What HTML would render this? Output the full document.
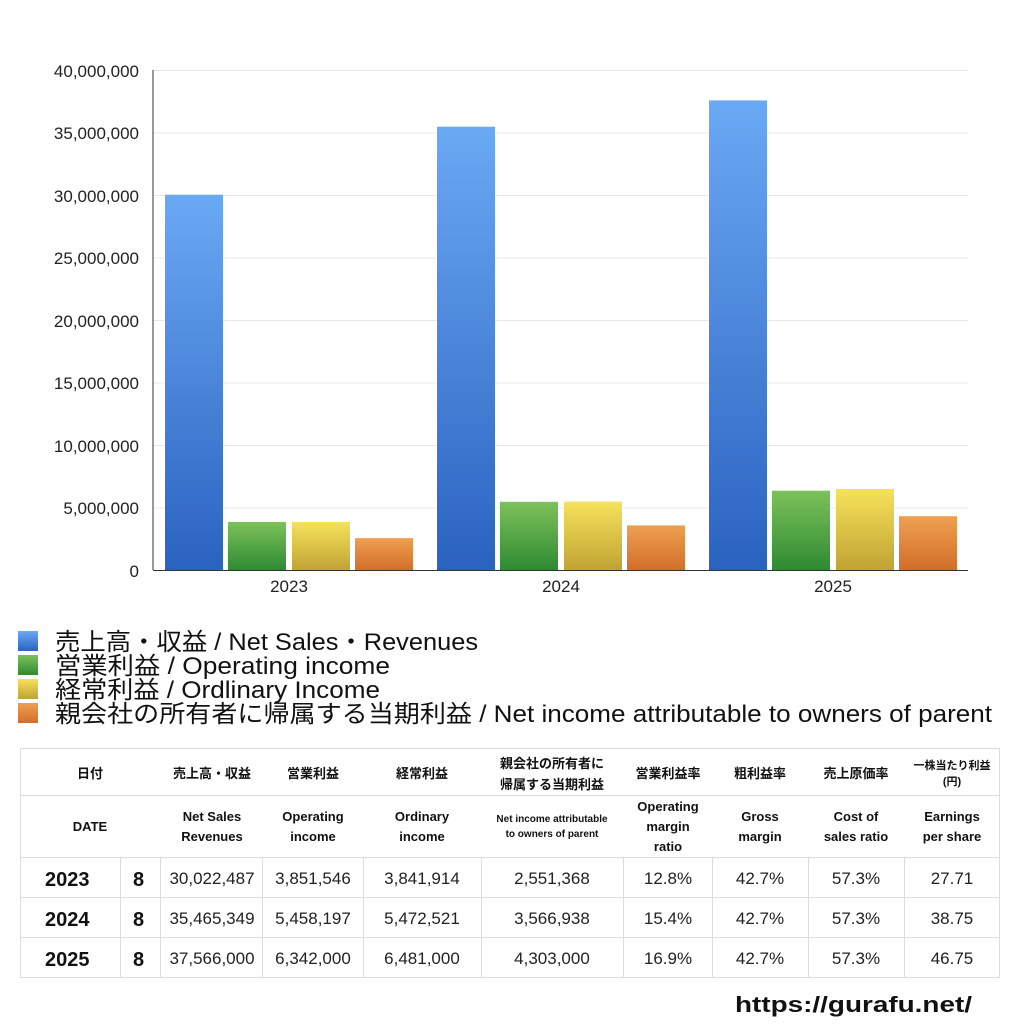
<!DOCTYPE html>
<html><head><meta charset="utf-8"><style>
html,body{margin:0;padding:0;background:#fff;}
svg{display:block;font-family:"Liberation Sans","Noto Sans CJK JP",sans-serif;}
</style></head><body>
<svg width="1024" height="1024" viewBox="0 0 1024 1024" xmlns="http://www.w3.org/2000/svg">
<defs>
<linearGradient id="gb" x1="0" y1="0" x2="0" y2="1"><stop offset="0" stop-color="#6aa9f4"/><stop offset="1" stop-color="#2b62c0"/></linearGradient>
<linearGradient id="gg" x1="0" y1="0" x2="0" y2="1"><stop offset="0" stop-color="#7cc25a"/><stop offset="1" stop-color="#2f8a32"/></linearGradient>
<linearGradient id="gy" x1="0" y1="0" x2="0" y2="1"><stop offset="0" stop-color="#f6e25a"/><stop offset="1" stop-color="#c0a334"/></linearGradient>
<linearGradient id="go" x1="0" y1="0" x2="0" y2="1"><stop offset="0" stop-color="#eea050"/><stop offset="1" stop-color="#d26e2a"/></linearGradient>
</defs>
<g stroke="#e8e8e8" stroke-width="1">
<line x1="153" y1="70.5" x2="968" y2="70.5"/><line x1="153" y1="133" x2="968" y2="133"/>
<line x1="153" y1="195.5" x2="968" y2="195.5"/><line x1="153" y1="258" x2="968" y2="258"/>
<line x1="153" y1="320.5" x2="968" y2="320.5"/><line x1="153" y1="383" x2="968" y2="383"/>
<line x1="153" y1="445.5" x2="968" y2="445.5"/><line x1="153" y1="508" x2="968" y2="508"/>
</g>
<g font-size="17" fill="#222" text-anchor="end">
<text x="139" y="77">40,000,000</text><text x="139" y="139">35,000,000</text>
<text x="139" y="202">30,000,000</text><text x="139" y="264">25,000,000</text>
<text x="139" y="327">20,000,000</text><text x="139" y="389">15,000,000</text>
<text x="139" y="452">10,000,000</text><text x="139" y="514">5,000,000</text>
<text x="139" y="577">0</text>
</g>
<rect x="165" y="194.7" width="58" height="375.3" fill="url(#gb)"/>
<rect x="228" y="521.9" width="58" height="48.1" fill="url(#gg)"/>
<rect x="292" y="522" width="58" height="48" fill="url(#gy)"/>
<rect x="355" y="538.1" width="58" height="31.9" fill="url(#go)"/>
<rect x="437" y="126.7" width="58" height="443.3" fill="url(#gb)"/>
<rect x="500" y="501.8" width="58" height="68.2" fill="url(#gg)"/>
<rect x="564" y="501.6" width="58" height="68.4" fill="url(#gy)"/>
<rect x="627" y="525.4" width="58" height="44.6" fill="url(#go)"/>
<rect x="709" y="100.4" width="58" height="469.6" fill="url(#gb)"/>
<rect x="772" y="490.7" width="58" height="79.3" fill="url(#gg)"/>
<rect x="836" y="489" width="58" height="81" fill="url(#gy)"/>
<rect x="899" y="516.2" width="58" height="53.8" fill="url(#go)"/>
<line x1="153" y1="70" x2="153" y2="570" stroke="#333"/>
<line x1="153" y1="570.5" x2="968" y2="570.5" stroke="#333"/>
<g font-size="17" fill="#222" text-anchor="middle">
<text x="289" y="592">2023</text><text x="561" y="592">2024</text><text x="833" y="592">2025</text>
</g>
<rect x="18" y="631" width="20" height="20" fill="url(#gb)"/>
<rect x="18" y="655" width="20" height="20" fill="url(#gg)"/>
<rect x="18" y="679" width="20" height="20" fill="url(#gy)"/>
<rect x="18" y="703" width="20" height="20" fill="url(#go)"/>
<g font-size="24" fill="#111">
<text x="55" y="650" textLength="423" lengthAdjust="spacingAndGlyphs">売上高・収益 / Net Sales・Revenues</text>
<text x="55" y="674" textLength="335" lengthAdjust="spacingAndGlyphs">営業利益 / Operating income</text>
<text x="55" y="698" textLength="325" lengthAdjust="spacingAndGlyphs">経常利益 / Ordlinary Income</text>
<text x="55" y="722" textLength="937" lengthAdjust="spacingAndGlyphs">親会社の所有者に帰属する当期利益 / Net income attributable to owners of parent</text>
</g>
<g stroke="#ddd" stroke-width="1" fill="none">
<rect x="20.5" y="748.5" width="979" height="229"/>
<line x1="20" y1="795.5" x2="1000" y2="795.5"/>
<line x1="20" y1="857.5" x2="1000" y2="857.5"/>
<line x1="20" y1="897.5" x2="1000" y2="897.5"/>
<line x1="20" y1="937.5" x2="1000" y2="937.5"/>
<line x1="120.5" y1="857" x2="120.5" y2="978"/>
<line x1="160.5" y1="857" x2="160.5" y2="978"/>
<line x1="262.5" y1="857" x2="262.5" y2="978"/>
<line x1="363.5" y1="857" x2="363.5" y2="978"/>
<line x1="481.5" y1="857" x2="481.5" y2="978"/>
<line x1="623.5" y1="857" x2="623.5" y2="978"/>
<line x1="712.5" y1="857" x2="712.5" y2="978"/>
<line x1="808.5" y1="857" x2="808.5" y2="978"/>
<line x1="904.5" y1="857" x2="904.5" y2="978"/>
</g>
<g font-size="13" font-weight="bold" fill="#111" text-anchor="middle">
<text x="90" y="778">日付</text>
<text x="212" y="778">売上高・収益</text>
<text x="313" y="778">営業利益</text>
<text x="422" y="778">経常利益</text>
<text x="552" y="768">親会社の所有者に</text>
<text x="552" y="789">帰属する当期利益</text>
<text x="668" y="778">営業利益率</text>
<text x="760" y="778">粗利益率</text>
<text x="856" y="778">売上原価率</text>
<text x="952" y="769" font-size="11">一株当たり利益</text>
<text x="952" y="785" font-size="11">(円)</text>
<text x="90" y="831">DATE</text>
<text x="212" y="821">Net Sales</text><text x="212" y="841">Revenues</text>
<text x="313" y="821">Operating</text><text x="313" y="841">income</text>
<text x="422" y="821">Ordinary</text><text x="422" y="841">income</text>
<text x="552" y="822" font-size="10">Net income attributable</text>
<text x="552" y="837" font-size="10">to owners of parent</text>
<text x="668" y="811">Operating</text><text x="668" y="831">margin</text><text x="668" y="851">ratio</text>
<text x="760" y="821">Gross</text><text x="760" y="841">margin</text>
<text x="856" y="821">Cost of</text><text x="856" y="841">sales ratio</text>
<text x="952" y="821">Earnings</text><text x="952" y="841">per share</text>
</g>
<g font-size="20" font-weight="bold" fill="#111">
<text x="45" y="886">2023</text><text x="133" y="886">8</text>
<text x="45" y="926">2024</text><text x="133" y="926">8</text>
<text x="45" y="966">2025</text><text x="133" y="966">8</text>
</g>
<g font-size="17" fill="#222" text-anchor="middle">
<text x="212" y="884">30,022,487</text><text x="313" y="884">3,851,546</text><text x="422" y="884">3,841,914</text><text x="552" y="884">2,551,368</text><text x="668" y="884">12.8%</text><text x="760" y="884">42.7%</text><text x="856" y="884">57.3%</text><text x="952" y="884">27.71</text>
<text x="212" y="924">35,465,349</text><text x="313" y="924">5,458,197</text><text x="422" y="924">5,472,521</text><text x="552" y="924">3,566,938</text><text x="668" y="924">15.4%</text><text x="760" y="924">42.7%</text><text x="856" y="924">57.3%</text><text x="952" y="924">38.75</text>
<text x="212" y="964">37,566,000</text><text x="313" y="964">6,342,000</text><text x="422" y="964">6,481,000</text><text x="552" y="964">4,303,000</text><text x="668" y="964">16.9%</text><text x="760" y="964">42.7%</text><text x="856" y="964">57.3%</text><text x="952" y="964">46.75</text>
</g>
<text x="735" y="1012" font-size="22" font-weight="bold" fill="#111" textLength="237" lengthAdjust="spacingAndGlyphs">https://gurafu.net/</text>
</svg>
</body></html>
